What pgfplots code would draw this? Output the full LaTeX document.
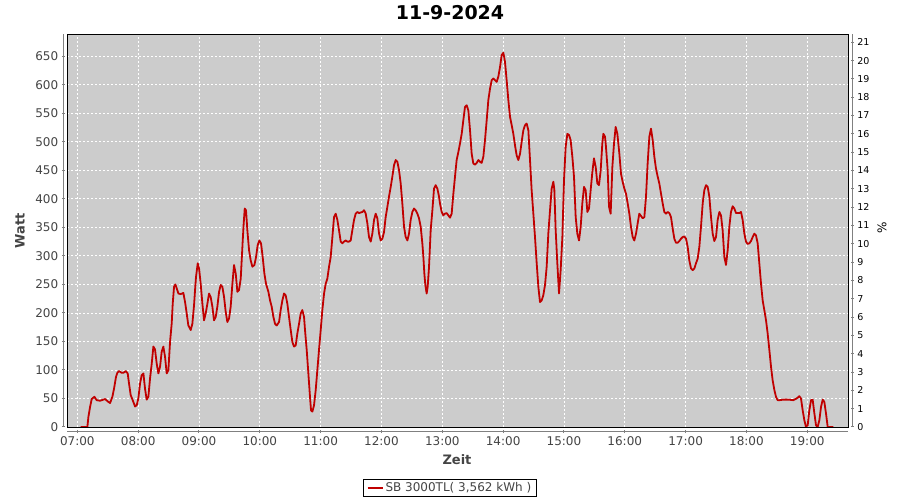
\documentclass[border=0pt]{standalone}
\usepackage{fontspec}
\setmainfont{DejaVu Sans}
\usepackage{pgfplots}
\pgfplotsset{compat=1.18}
\usepackage{pgfplotstable}
\definecolor{plotbg}{RGB}{204,204,204}
\definecolor{serred}{RGB}{192,0,0}
\definecolor{axgray}{RGB}{128,128,128}
\definecolor{lblgray}{RGB}{68,68,68}

\pgfplotstableread{
t w
7.055 0
7.165 0
7.181 17
7.209 35
7.236 49
7.280 53
7.318 47
7.373 46
7.455 49
7.510 44
7.538 42
7.576 53
7.603 67
7.636 88
7.658 95
7.686 98
7.729 95
7.757 95
7.795 98
7.828 94
7.850 76
7.877 56
7.910 47
7.949 36
7.976 38
8.003 50
8.031 76
8.058 91
8.086 94
8.113 67
8.140 48
8.168 53
8.195 85
8.223 111
8.250 141
8.277 136
8.305 111
8.332 94
8.360 106
8.387 132
8.414 141
8.442 123
8.469 94
8.497 100
8.524 149
8.551 181
8.568 216
8.590 246
8.612 250
8.634 243
8.661 234
8.699 233
8.743 235
8.771 219
8.798 199
8.825 178
8.864 170
8.891 181
8.919 214
8.935 240
8.951 263
8.979 287
9.001 278
9.028 251
9.056 216
9.083 187
9.110 199
9.138 216
9.165 234
9.192 228
9.220 211
9.247 187
9.275 193
9.302 211
9.330 237
9.357 249
9.384 246
9.412 228
9.439 202
9.466 184
9.494 190
9.521 211
9.549 251
9.576 284
9.604 269
9.631 237
9.658 240
9.686 260
9.702 292
9.719 327
9.735 357
9.752 383
9.773 380
9.795 345
9.823 310
9.850 292
9.878 281
9.911 284
9.938 298
9.965 319
9.993 327
10.020 322
10.047 298
10.075 269
10.102 251
10.141 237
10.168 222
10.195 211
10.223 193
10.250 181
10.278 178
10.316 184
10.343 205
10.371 222
10.398 234
10.425 231
10.453 216
10.480 193
10.508 170
10.535 149
10.562 141
10.590 143
10.617 164
10.645 181
10.672 199
10.699 205
10.727 193
10.743 170
10.771 135
10.798 94
10.825 53
10.842 29
10.864 27
10.891 38
10.919 65
10.946 100
10.973 135
11.001 170
11.028 205
11.056 234
11.083 251
11.110 260
11.138 281
11.165 298
11.193 333
11.220 368
11.247 374
11.275 363
11.302 345
11.330 325
11.357 322
11.384 325
11.412 327
11.439 325
11.467 325
11.494 327
11.521 345
11.549 363
11.576 374
11.604 377
11.631 375
11.658 376
11.686 377
11.713 380
11.741 374
11.768 357
11.795 333
11.823 325
11.850 339
11.878 363
11.905 374
11.932 366
11.960 339
11.987 327
12.015 330
12.042 342
12.069 368
12.097 386
12.124 404
12.152 421
12.179 439
12.206 459
12.234 468
12.261 465
12.289 450
12.316 427
12.343 392
12.371 351
12.398 333
12.426 327
12.453 339
12.480 363
12.508 377
12.535 383
12.563 380
12.590 374
12.617 366
12.645 351
12.672 322
12.689 298
12.705 269
12.721 249
12.743 234
12.760 246
12.782 281
12.809 345
12.837 380
12.864 418
12.891 424
12.919 418
12.946 404
12.962 392
12.990 377
13.017 371
13.045 374
13.072 375
13.099 371
13.127 367
13.154 374
13.182 409
13.209 439
13.236 468
13.264 482
13.291 497
13.319 514
13.346 538
13.373 561
13.401 564
13.428 555
13.456 520
13.483 479
13.510 462
13.538 460
13.565 463
13.593 468
13.620 465
13.647 463
13.675 474
13.702 503
13.730 538
13.757 573
13.784 593
13.812 608
13.839 611
13.867 608
13.894 605
13.921 614
13.949 631
13.976 652
14.004 656
14.031 640
14.058 608
14.086 573
14.113 544
14.141 529
14.168 514
14.195 494
14.223 476
14.250 468
14.278 479
14.305 500
14.332 520
14.360 529
14.387 532
14.415 520
14.442 468
14.469 415
14.497 374
14.524 333
14.552 287
14.579 246
14.606 219
14.634 222
14.661 231
14.689 249
14.716 281
14.743 339
14.771 380
14.798 418
14.826 430
14.842 416
14.864 345
14.891 287
14.919 234
14.946 275
14.974 333
15.001 433
15.028 491
15.056 514
15.083 512
15.110 503
15.138 474
15.165 439
15.193 368
15.220 339
15.248 327
15.275 351
15.302 392
15.330 421
15.357 415
15.385 377
15.412 383
15.439 415
15.467 447
15.494 471
15.522 456
15.549 427
15.576 424
15.604 450
15.631 497
15.648 514
15.675 509
15.691 491
15.719 450
15.741 386
15.768 374
15.796 456
15.823 497
15.850 526
15.878 514
15.911 479
15.938 444
15.965 430
15.993 418
16.020 409
16.048 392
16.075 374
16.102 351
16.130 333
16.157 327
16.185 339
16.212 357
16.239 374
16.267 370
16.294 366
16.322 368
16.349 404
16.376 462
16.404 509
16.431 523
16.459 503
16.486 474
16.513 453
16.541 439
16.568 427
16.596 409
16.623 392
16.650 377
16.678 374
16.705 377
16.733 375
16.760 368
16.787 348
16.815 330
16.842 323
16.869 323
16.897 326
16.924 330
16.952 333
16.979 334
17.007 330
17.034 316
17.061 292
17.089 278
17.116 275
17.144 278
17.171 287
17.198 295
17.226 316
17.253 351
17.281 392
17.308 415
17.335 424
17.363 421
17.390 404
17.418 368
17.445 339
17.472 326
17.500 333
17.527 363
17.555 377
17.582 371
17.609 345
17.637 298
17.664 284
17.692 310
17.719 351
17.746 377
17.774 387
17.801 383
17.829 375
17.856 375
17.883 375
17.911 377
17.938 363
17.966 339
17.993 325
18.020 321
18.048 322
18.075 326
18.103 333
18.130 339
18.157 336
18.185 322
18.212 287
18.240 251
18.267 222
18.294 205
18.322 187
18.349 164
18.377 135
18.404 106
18.431 82
18.459 65
18.486 53
18.514 47
18.541 47
18.607 48
18.689 48
18.771 47
18.826 50
18.870 54
18.897 50
18.925 29
18.952 12
18.979 0
19.007 3
19.034 29
19.062 47
19.089 48
19.117 24
19.144 3
19.171 0
19.199 12
19.226 35
19.254 48
19.281 44
19.308 24
19.336 0
19.429 0
}\sbdata

\begin{document}
\begin{tikzpicture}
\useasboundingbox (0pt,0pt) rectangle (900pt,500pt);
\pgfplotsset{
  base/.style={scale only axis, width=781pt, height=393pt,
    xmin=6.83, xmax=19.67, ymin=0, ymax=689, anchor=south west,
    /pgf/number format/assume math mode=true,
    tick style={axgray, line width=1pt},
    tick align=outside, major tick length=3pt,
    ticklabel style={font=\fontsize{12}{14}\selectfont, text=lblgray},
  },
  noarrow/.style={axis line style={-, axgray, line width=1pt},
    x axis line style={-}, y axis line style={-}},
}
% main plot area
\begin{axis}[base, at={(67pt,73pt)},
  axis background/.style={fill=plotbg},
  axis line style={black, line width=0.8pt},
  xtick={7,...,19}, ytick={0,50,...,650},
  xticklabels={}, yticklabels={},
  tick style={draw=none},
  grid=major,
  major grid style={white, line width=0.8pt, dash pattern=on 2pt off 2pt},
  legend style={at={(0.4904,-0.1552)}, anchor=center, draw=black,
    line width=0.8pt, fill=white, font=\fontsize{12}{14}\selectfont,
    text=lblgray, inner xsep=3pt, inner ysep=1.5pt},
  legend image code/.code={\draw[serred, line width=1.8pt] (0pt,0pt) -- (15pt,0pt);},
]
\addplot[serred, line width=1.8pt, line join=round] table[x=t, y=w] {\sbdata};
\addlegendentry{SB 3000TL( 3,562 kWh )}
\end{axis}
% left axis
\begin{axis}[base, at={(63.3pt,73pt)},
  hide x axis, axis y line=left, noarrow,
  ytick={0,50,...,650},
]
\addplot[draw=none] coordinates {(7,0)};
\end{axis}
% bottom axis
\begin{axis}[base, at={(67pt,68.3pt)},
  hide y axis, axis x line=bottom, noarrow,
  xtick={7,...,19},
  xticklabels={07:00,08:00,09:00,10:00,11:00,12:00,13:00,14:00,15:00,16:00,17:00,18:00,19:00},
]
\addplot[draw=none] coordinates {(7,0)};
\end{axis}
% right axis
\begin{axis}[base, at={(71.3pt,73pt)}, ymax=21.45,
  hide x axis, axis y line=right, noarrow,
  ytick={0,...,21},
  yticklabel style={font=\fontsize{9.5}{11}\selectfont, text=black},
]
\addplot[draw=none] coordinates {(7,0)};
\end{axis}
\node[font=\bfseries\fontsize{19}{22}\selectfont] at (450pt,487pt) {11-9-2024};
\node[font=\bfseries\fontsize{13}{16}\selectfont, text=lblgray, rotate=90] at (20pt,269pt) {Watt};
\node[font=\bfseries\fontsize{13}{16}\selectfont, text=lblgray] at (457pt,40pt) {Zeit};
\node[font=\fontsize{12}{14}\selectfont, rotate=90] at (882pt,272pt) {\%};
\end{tikzpicture}
\end{document}
